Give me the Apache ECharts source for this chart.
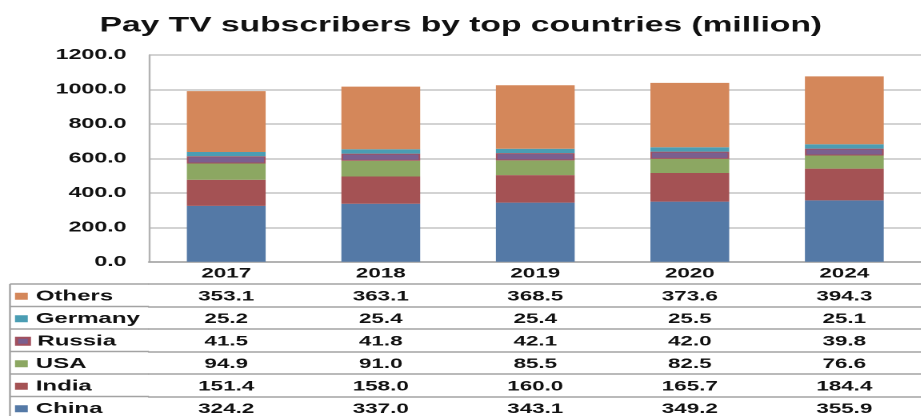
<!DOCTYPE html>
<html>
<head>
<meta charset="utf-8">
<script src="https://cdn.jsdelivr.net/npm/echarts@6/dist/echarts.min.js"></script>
<style type="text/css">
body {
    margin: 0;
    overflow: hidden;
    background: #fff;
}
/* the source picture is stretched sideways, so draw narrow and scale in x */
#main {
    width: 575.6px;
    height: 416px;
    transform: scaleX(1.6);
    transform-origin: 0 0;
}
</style>
</head>
<body>
<div id="main"></div>
<script>
var years = ['2017', '2018', '2019', '2020', '2024'];
var china = [324.2, 337.0, 343.1, 349.2, 355.9];
var india = [151.4, 158.0, 160.0, 165.7, 184.4];
var usa = [94.9, 91.0, 85.5, 82.5, 76.6];
var russia = [41.5, 41.8, 42.1, 42.0, 39.8];
var germany = [25.2, 25.4, 25.4, 25.5, 25.1];
var others = [353.1, 363.1, 368.5, 373.6, 394.3];
var yTicks = [0, 200, 400, 600, 800, 1000, 1200];

var S = 1.6;          // horizontal stretch
var font = 'Liberation Sans, Arial, sans-serif';
var lineCol = '#a3a3a3';
var headH = 22;       // year row
var rowH = 22.5;      // data rows
var gridLeft = 149 / S;
var top0 = 262 + headH;

// table rows, top to bottom
var rows = [
    { name: 'Others', data: others, color: '#d4875a' },
    { name: 'Germany', data: germany, color: '#4a9db3' },
    { name: 'Russia', data: russia, color: '#7a5f8f' },
    { name: 'USA', data: usa, color: '#8ca762' },
    { name: 'India', data: india, color: '#a45254' },
    { name: 'China', data: china, color: '#5479a6' }
];

var chart = echarts.init(document.getElementById('main'), null, { devicePixelRatio: 2 });

// year header axis + one axis per table row
var xAxes = [{
    type: 'category',
    data: years,
    position: 'bottom',
    axisLine: { lineStyle: { color: lineCol, width: 1.5 } },
    axisTick: { length: headH, lineStyle: { color: lineCol, width: 1.2 } },
    axisLabel: {
        interval: 0, margin: headH / 2 + 1, verticalAlign: 'middle',
        fontSize: 14, fontWeight: 'bold', fontFamily: font, color: '#111'
    }
}];
rows.forEach(function(r, i) {
    xAxes.push({
        type: 'category',
        data: years,
        position: 'bottom',
        offset: headH + i * rowH,
        axisLine: { lineStyle: { color: lineCol, width: 1.5 } },
        axisTick: { length: rowH, lineStyle: { color: lineCol, width: 1.2 } },
        axisLabel: {
            interval: 0, margin: rowH / 2 + 1.5, verticalAlign: 'middle',
            fontSize: 14, fontWeight: 'bold', fontFamily: font, color: '#111',
            formatter: function(v, idx) { return r.data[idx].toFixed(1); }
        }
    });
});

// one legend per table row so each name sits in its cell
var legends = rows.map(function(r, i) {
    return {
        orient: 'vertical',
        left: 15 / S,
        top: top0 + i * rowH + rowH / 2 - 6.5,
        padding: 0,
        itemWidth: 8,
        itemHeight: 7,
        icon: 'rect',
        selectedMode: false,
        data: [r.name],
        textStyle: { fontSize: 15, fontWeight: 'bold', fontFamily: font, color: '#111' }
    };
});

// stacked bars, China at the bottom
var series = rows.slice().reverse().map(function(r) {
    var s = {
        name: r.name,
        type: 'bar',
        stack: 'total',
        barWidth: '51%',
        data: r.data,
        itemStyle: { color: r.color }
    };
    if (r.name === 'Russia') {
        s.itemStyle.borderColor = '#a2505e';
        s.itemStyle.borderWidth = 1;
    }
    return s;
});

// borders of the name column left of the grid
var graphics = [];
for (var i = 0; i < rows.length; i++) {
    graphics.push({
        type: 'line',
        shape: { x1: 10 / S, y1: top0 + i * rowH, x2: gridLeft, y2: top0 + i * rowH },
        style: { stroke: lineCol, lineWidth: 1.5 }
    });
}
graphics.push({
    type: 'line',
    shape: { x1: 10 / S, y1: top0, x2: 10 / S, y2: 416 },
    style: { stroke: lineCol, lineWidth: 1.2 }
});

var option = {
    animation: false,
    title: {
        text: 'Pay TV subscribers by top countries (million)',
        left: 'center',
        top: 10,
        textStyle: { fontSize: 21, fontWeight: 'bold', fontFamily: font, color: '#111' }
    },
    legend: legends,
    grid: {
        left: gridLeft,
        top: 55,
        width: 780 / S,
        height: 207
    },
    xAxis: xAxes,
    yAxis: {
        type: 'value',
        min: yTicks[0],
        max: yTicks[yTicks.length - 1],
        interval: 200,
        axisLine: { show: true, lineStyle: { color: '#b3b3b3', width: 1.2 } },
        axisTick: { show: false },
        splitLine: { lineStyle: { color: '#c4c4c4', width: 1.6 } },
        axisLabel: {
            margin: 14,
            fontSize: 14.5, fontWeight: 'bold', fontFamily: font, color: '#111',
            formatter: function(v) { return v.toFixed(1); }
        }
    },
    graphic: graphics,
    series: series
};
chart.setOption(option);
</script>
</body>
</html>
